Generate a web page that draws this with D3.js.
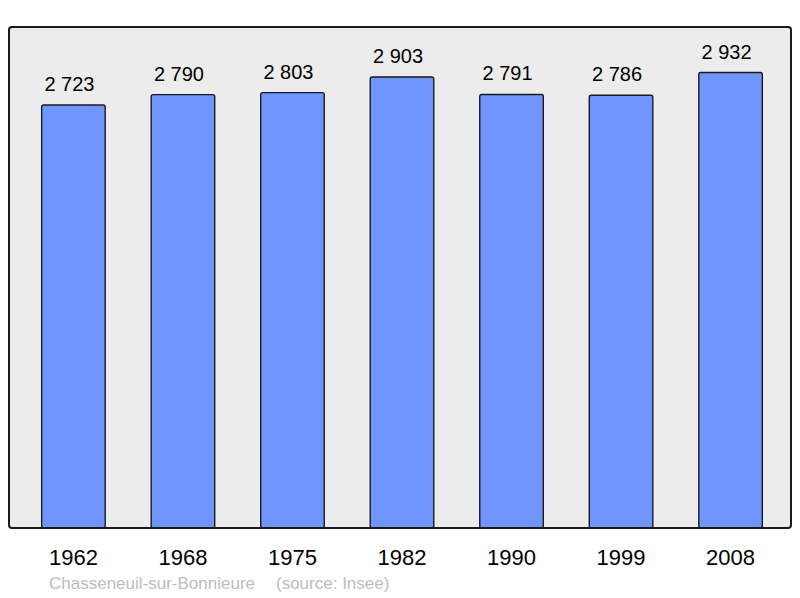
<!DOCTYPE html>
<html>
<head>
<meta charset="utf-8">
<script src="https://cdn.jsdelivr.net/npm/d3@7"></script>
<style>
  body { margin: 0; background: #fff; }
  svg { display: block; font-family: "Liberation Sans", Arial, sans-serif; }
</style>
</head>
<body>
<div class="D3"></div>
<script>
// population by census year
var years = ["1962", "1968", "1975", "1982", "1990", "1999", "2008"];
var population = [2723, 2790, 2803, 2903, 2791, 2786, 2932];
var valueLabels = ["2 723", "2 790", "2 803", "2 903", "2 791", "2 786", "2 932"];
var town = "Chasseneuil-sur-Bonnieure";
var source = "(source: Insee)";

var svgWidth = 800;
var svgHeight = 598;

// plot frame
var frame = { left: 9, top: 27, right: 791, bottom: 528 };

var svg = d3.select(".D3")
  .append("svg")
  .attr("width", svgWidth)
  .attr("height", svgHeight);

// grey background box
svg.append("rect")
  .attr("x", frame.left)
  .attr("y", frame.top)
  .attr("width", frame.right - frame.left)
  .attr("height", frame.bottom - frame.top)
  .attr("rx", 3)
  .attr("fill", "#ececec")
  .attr("stroke", "none");

var xScale = d3.scaleBand()
  .domain(years)
  .range([11, 793])
  .paddingInner(0.42)
  .paddingOuter(0.28);

// top of frame = 110% of max value
var yScale = d3.scaleLinear()
  .domain([0, d3.max(population) * 1.1])
  .range([frame.bottom, frame.top]);

var data = years.map((y, i) => ({ year: y, value: population[i], label: valueLabels[i] }));

svg.selectAll(".bar")
  .data(data)
  .enter()
  .append("rect")
  .classed("bar", true)
  .attr("x", d => xScale(d.year))
  .attr("y", d => yScale(d.value))
  .attr("width", xScale.bandwidth())
  .attr("height", d => yScale(0) - yScale(d.value))
  .attr("rx", 2)
  .attr("fill", "#7095ff")
  .attr("stroke", "#1a1a1a")
  .attr("stroke-width", 1.4);

// value labels above bars
svg.selectAll(".val")
  .data(data)
  .enter()
  .append("text")
  .classed("val", true)
  .attr("x", d => xScale(d.year) + xScale.bandwidth() / 2 - 4)
  .attr("y", d => yScale(d.value) - 14)
  .attr("text-anchor", "middle")
  .attr("font-size", 20)
  .attr("fill", "#000")
  .text(d => d.label);

// frame outline drawn on top
svg.append("rect")
  .attr("x", frame.left)
  .attr("y", frame.top)
  .attr("width", frame.right - frame.left)
  .attr("height", frame.bottom - frame.top)
  .attr("rx", 3)
  .attr("fill", "none")
  .attr("stroke", "#1a1a1a")
  .attr("stroke-width", 2);

// x axis with year labels, no line/ticks
var xAxis = svg.append("g")
  .attr("transform", `translate(0, ${frame.bottom})`)
  .call(d3.axisBottom(xScale).tickSize(0).tickPadding(21));

xAxis.select(".domain").remove();
xAxis.selectAll("text")
  .attr("font-size", 22)
  .attr("font-family", "Liberation Sans, Arial, sans-serif")
  .attr("fill", "#000");

// footer
svg.append("text")
  .attr("x", 49)
  .attr("y", 589)
  .attr("font-size", 17)
  .attr("fill", "#bdbdbd")
  .text(town);

svg.append("text")
  .attr("x", 276)
  .attr("y", 589)
  .attr("font-size", 17)
  .attr("fill", "#bdbdbd")
  .text(source);
</script>
</body>
</html>
